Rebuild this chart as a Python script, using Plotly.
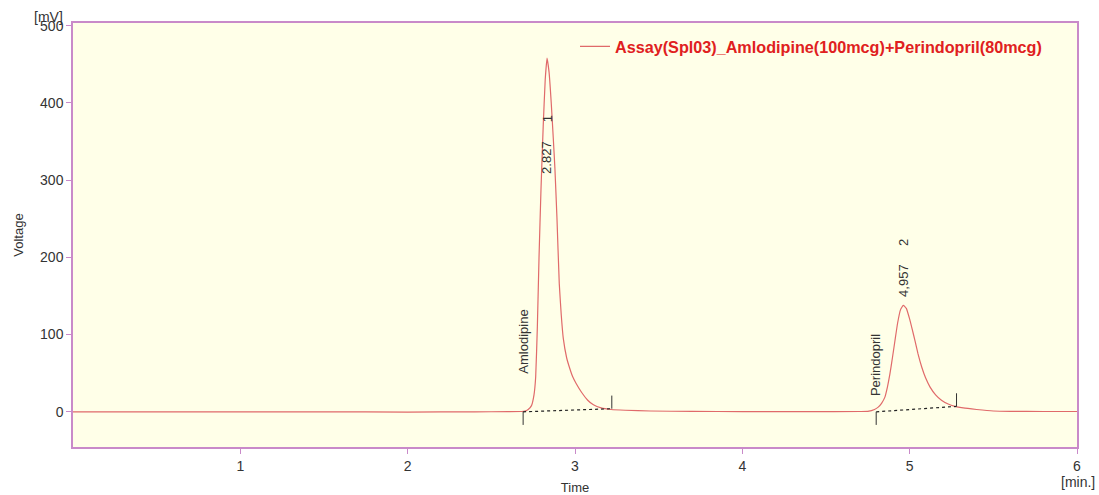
import plotly.graph_objects as go

# ---- data ----
time_min = [0.0, 0.5, 1.0, 1.5, 2.0, 2.4, 2.6, 2.68, 2.70, 2.72, 2.74, 2.755, 2.765, 2.775,
            2.785, 2.797, 2.81, 2.822, 2.833, 2.845, 2.858, 2.87, 2.88, 2.892, 2.906, 2.918,
            2.93, 2.95, 2.966, 2.985, 3.006, 3.04, 3.076, 3.11, 3.156, 3.216, 3.30, 3.45,
            3.70, 4.00, 4.40, 4.70, 4.75, 4.79, 4.812, 4.832, 4.852, 4.867, 4.882, 4.897,
            4.912, 4.928, 4.945, 4.962, 4.98, 5.00, 5.015, 5.032, 5.05, 5.072, 5.095, 5.122,
            5.155, 5.19, 5.23, 5.27, 5.32, 5.40, 5.50, 5.60, 5.80, 6.00]
voltage_mv = [0.0, 0.0, 0.0, 0.0, -0.3, 0.0, 0.2, 0.4, 0.8, 3.0, 8.0, 22.0, 45.0, 110.0,
              200.0, 290.0, 370.0, 430.0, 458.0, 440.0, 400.0, 355.0, 315.0, 252.0, 166.0, 125.0,
              95.0, 70.0, 58.0, 46.0, 37.0, 25.0, 15.0, 9.0, 5.0, 3.0, 2.0, 1.0,
              0.5, 0.3, 0.3, 0.4, 0.6, 3.0, 6.0, 11.0, 19.0, 32.0, 49.0, 70.0,
              92.0, 115.0, 132.0, 138.0, 134.0, 120.0, 107.0, 92.0, 75.0, 58.0, 44.0, 32.0,
              22.0, 15.0, 10.0, 7.0, 5.0, 3.0, 1.0, 0.5, 0.4, 0.4]

series_name = "Assay(Spl03)_Amlodipine(100mcg)+Perindopril(80mcg)"

peak_names = ["Amlodipine", "Perindopril"]
peak_numbers = ["1", "2"]
peak_apex_time = [2.833, 4.962]
peak_rt_labels = ["2.827", "4,957"]
peak_start = [2.69, 4.80]
peak_end = [3.22, 5.28]
baseline_start_mv = [0.0, 0.0]
baseline_end_mv = [4.0, 7.0]

x_ticks = [1, 2, 3, 4, 5, 6]
y_ticks = [0, 100, 200, 300, 400, 500]

# ---- style ----
TRACE_COLOR = "#E06A6A"
FRAME_COLOR = "#C98AC9"
FONT = "Liberation Sans, Arial, sans-serif"
TEXT_COLOR = "#333333"

fig = go.Figure()
fig.add_trace(go.Scatter(
    x=time_min, y=voltage_mv, mode="lines", name=series_name,
    line=dict(color=TRACE_COLOR, width=1.2, shape="spline", smoothing=0.4),
    showlegend=True,
))

shapes = []
annotations = []
rt_label_bottom = [305, 146]
num_label_bottom = [372, 212]
name_label_bottom = [47, 18]
for i in range(len(peak_apex_time)):
    annotations.append(dict(x=peak_apex_time[i], y=rt_label_bottom[i], xref="x", yref="y",
                            text=peak_rt_labels[i], textangle=-90, showarrow=False,
                            xanchor="center", yanchor="bottom",
                            font=dict(family=FONT, size=13, color=TEXT_COLOR)))
    annotations.append(dict(x=peak_apex_time[i], y=num_label_bottom[i], xref="x", yref="y",
                            text=peak_numbers[i], textangle=-90, showarrow=False,
                            xanchor="center", yanchor="bottom",
                            font=dict(family=FONT, size=13, color=TEXT_COLOR)))
    annotations.append(dict(x=peak_start[i], y=name_label_bottom[i], xref="x", yref="y",
                            text=peak_names[i], textangle=-90, showarrow=False,
                            xanchor="center", yanchor="bottom",
                            font=dict(family=FONT, size=13, color=TEXT_COLOR)))
    shapes.append(dict(type="line", xref="x", yref="y",
                       x0=peak_start[i], y0=baseline_start_mv[i],
                       x1=peak_end[i], y1=baseline_end_mv[i],
                       line=dict(color="#222222", width=1.2, dash="dot")))
    shapes.append(dict(type="line", xref="x", yref="y",
                       x0=peak_start[i], y0=baseline_start_mv[i],
                       x1=peak_start[i], y1=baseline_start_mv[i] - 17,
                       line=dict(color=TEXT_COLOR, width=1)))
    shapes.append(dict(type="line", xref="x", yref="y",
                       x0=peak_end[i], y0=baseline_end_mv[i],
                       x1=peak_end[i], y1=baseline_end_mv[i] + 17,
                       line=dict(color=TEXT_COLOR, width=1)))

annotations.append(dict(x=1.02, y=-0.06, xref="paper", yref="paper", text="[min.]",
                        showarrow=False, xanchor="right", yanchor="top",
                        font=dict(family=FONT, size=14, color=TEXT_COLOR)))
annotations.append(dict(x=-0.024, y=1.013, xref="paper", yref="paper", text="[mV]",
                        showarrow=False, xanchor="center", yanchor="middle",
                        font=dict(family=FONT, size=14, color=TEXT_COLOR)))

fig.update_layout(
    width=1099, height=495,
    margin=dict(l=73, r=22, t=23, b=48),
    paper_bgcolor="white",
    plot_bgcolor="#FFFFE8",
    font=dict(family=FONT, size=14, color=TEXT_COLOR),
    shapes=shapes, annotations=annotations,
    showlegend=True,
    legend=dict(x=0.5, y=0.985, xanchor="left", yanchor="top",
                bgcolor="rgba(0,0,0,0)", itemwidth=30,
                font=dict(family=FONT, size=16.2, color="#E02020", weight="bold")),
)
fig.update_xaxes(range=[0, 6], tickvals=x_ticks, showgrid=False, zeroline=False,
                 showline=True, linecolor=FRAME_COLOR, linewidth=1.5, mirror=True,
                 ticks="outside", ticklen=5, tickcolor=FRAME_COLOR, automargin=False,
                 tickfont=dict(size=14, color=TEXT_COLOR),
                 title=dict(text="Time", font=dict(size=13), standoff=10))
fig.update_yaxes(range=[-45.6, 503.6], tickvals=y_ticks, showgrid=False, zeroline=False,
                 showline=True, linecolor=FRAME_COLOR, linewidth=1.5, mirror=True,
                 ticks="outside", ticklen=5, tickcolor=FRAME_COLOR, automargin=False,
                 tickfont=dict(size=14, color=TEXT_COLOR),
                 title=dict(text="Voltage", font=dict(size=13), standoff=14))

fig.write_html("out.html")
